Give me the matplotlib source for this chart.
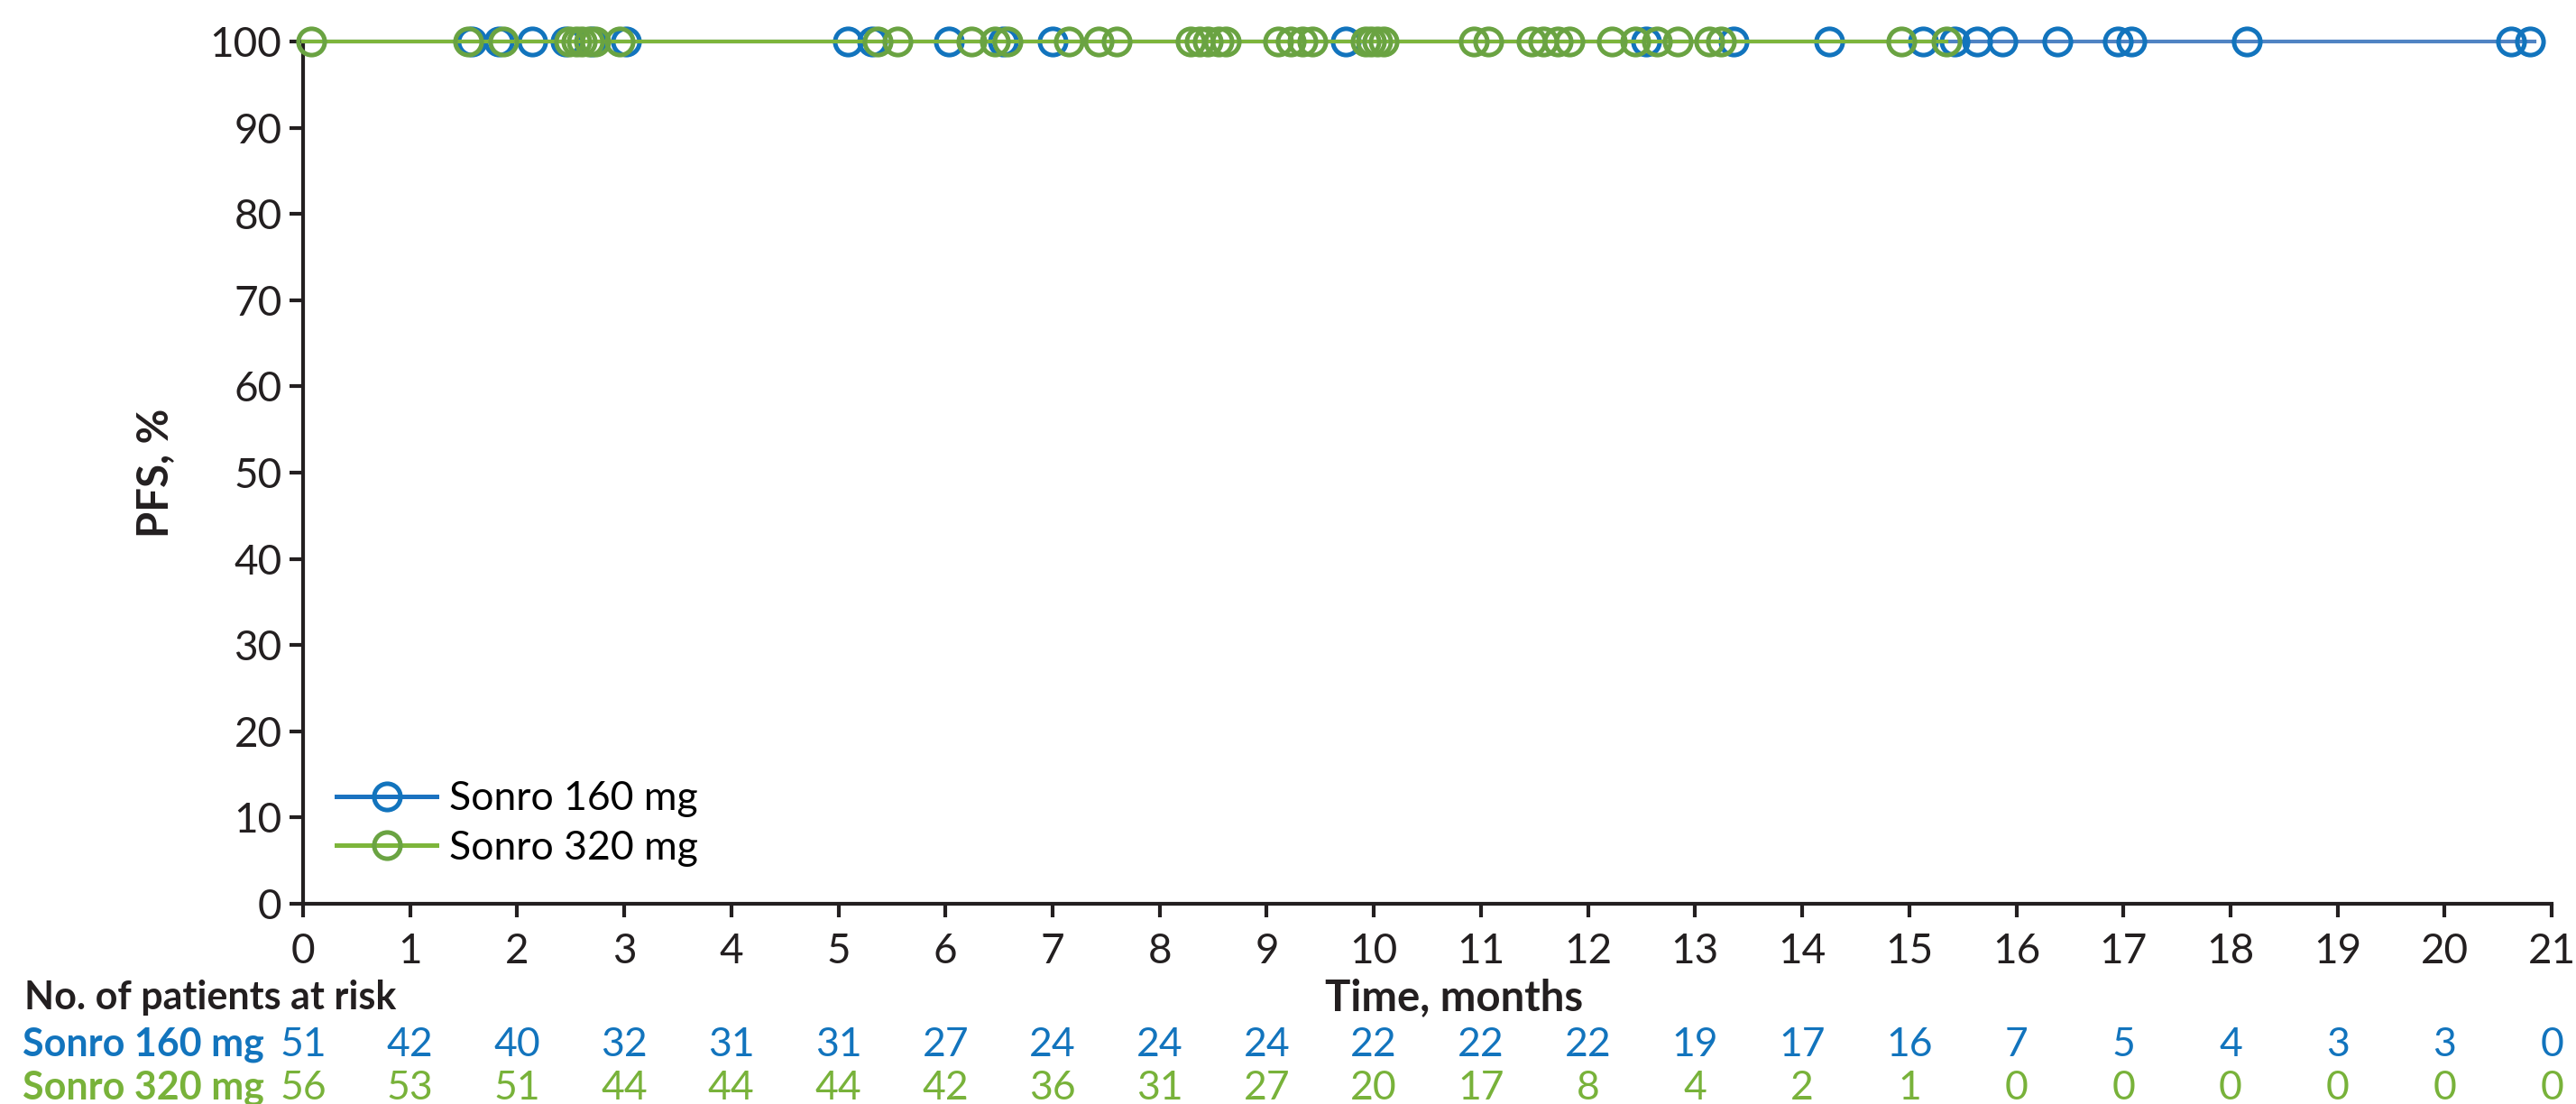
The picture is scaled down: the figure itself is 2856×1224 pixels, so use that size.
import matplotlib
matplotlib.use("Agg")
import matplotlib.pyplot as plt
import matplotlib.transforms as mtransforms

plt.rcParams['font.family'] = ['Lato', 'DejaVu Sans']

# censoring times (months), PFS stays at 100%
censor_160 = [1.58, 1.83, 2.14, 2.45, 2.70, 3.02, 5.09, 5.32, 6.03, 6.54, 7.00,
              9.74, 12.54, 13.36, 14.25, 15.13, 15.42, 15.63, 15.87, 16.38,
              16.95, 17.07, 18.15, 20.62, 20.80]
censor_320 = [0.08, 1.54, 1.87, 2.49, 2.55, 2.60, 2.67, 2.73, 2.96, 5.37, 5.55,
              6.24, 6.46, 6.58, 7.15, 7.43, 7.60, 8.29, 8.37, 8.45, 8.55, 8.62,
              9.11, 9.22, 9.33, 9.43, 9.92, 9.97, 10.03, 10.09, 10.93, 11.07,
              11.47, 11.58, 11.72, 11.83, 12.22, 12.44, 12.64, 12.84, 13.13,
              13.24, 14.93, 15.35]
end_160 = 20.84
end_320 = 15.35

months = list(range(0, 22))
risk_160 = [51, 42, 40, 32, 31, 31, 27, 24, 24, 24, 22, 22, 22, 19, 17, 16, 7, 5, 4, 3, 3, 0]
risk_320 = [56, 53, 51, 44, 44, 44, 42, 36, 31, 27, 20, 17, 8, 4, 2, 1, 0, 0, 0, 0, 0, 0]

blue_line = '#4f83c3'
blue_mark = '#1274bd'
green_line = '#7db53b'
green_mark = '#6aa342'
blue_txt = '#1274bd'
green_txt = '#78b23a'

fig = plt.figure(figsize=(14.28, 6.12), dpi=200)
ax = fig.add_axes([0.1176, 0.1814, 0.873, 0.781])

ax.plot([0, end_160], [100, 100], color=blue_line, lw=1.5, clip_on=False, zorder=3)
ax.plot(censor_160, [100] * len(censor_160), ls='none', marker='o', ms=10.5,
        mfc='none', mec=blue_mark, mew=1.8, clip_on=False, zorder=4)
ax.plot([0, end_320], [100, 100], color=green_line, lw=1.5, clip_on=False, zorder=5)
ax.plot(censor_320, [100] * len(censor_320), ls='none', marker='o', ms=10.5,
        mfc='none', mec=green_mark, mew=1.8, clip_on=False, zorder=6)

# legend handles
h1, = ax.plot([], [], color='#1a72c0', lw=1.8, marker='o', ms=10.5, mfc='none',
              mec=blue_mark, mew=1.8, label='Sonro 160 mg')
h2, = ax.plot([], [], color=green_line, lw=1.8, marker='o', ms=10.5, mfc='none',
              mec=green_mark, mew=1.8, label='Sonro 320 mg')
ax.legend(handles=[h1, h2], loc='upper left', bbox_to_anchor=(0.015, 0.143),
          frameon=False, fontsize=16, handlelength=2.5, handletextpad=0.3,
          labelspacing=0.3, borderpad=0, borderaxespad=0)

ax.set_xlim(0, 21)
ax.set_ylim(0, 100)
ax.set_xticks(months)
ax.set_yticks(range(0, 101, 10))
ax.tick_params(axis='both', labelsize=16.5, length=5.4, width=1.5, color='#231f20',
               labelcolor='#231f20')
ax.tick_params(axis='x', pad=6)
ax.tick_params(axis='y', pad=3)
for s in ['top', 'right']:
    ax.spines[s].set_visible(False)
for s in ['left', 'bottom']:
    ax.spines[s].set_linewidth(1.5)
    ax.spines[s].set_color('#231f20')

ax.set_ylabel('PFS, %', fontsize=17, fontweight='bold', color='#231f20', labelpad=14)

# risk table
tr = mtransforms.blended_transform_factory(ax.transData, fig.transFigure)
fig.text(0.5645, 0.0964, 'Time, months', ha='center', va='center', fontsize=17,
         fontweight='bold', color='#231f20')
fig.text(0.0095, 0.0964, 'No. of patients at risk', ha='left', va='center',
         fontsize=15.5, fontweight='bold', color='#231f20')
fig.text(0.1025, 0.0539, 'Sonro 160 mg', ha='right', va='center', fontsize=15.5,
         fontweight='bold', color=blue_txt)
fig.text(0.1025, 0.0147, 'Sonro 320 mg', ha='right', va='center', fontsize=15.5,
         fontweight='bold', color=green_txt)
for m, a, b in zip(months, risk_160, risk_320):
    ax.text(m, 0.0539, str(a), transform=tr, ha='center', va='center',
            fontsize=16, color=blue_txt)
    ax.text(m, 0.0147, str(b), transform=tr, ha='center', va='center',
            fontsize=16, color=green_txt)

fig.savefig('out.png', dpi=200)
